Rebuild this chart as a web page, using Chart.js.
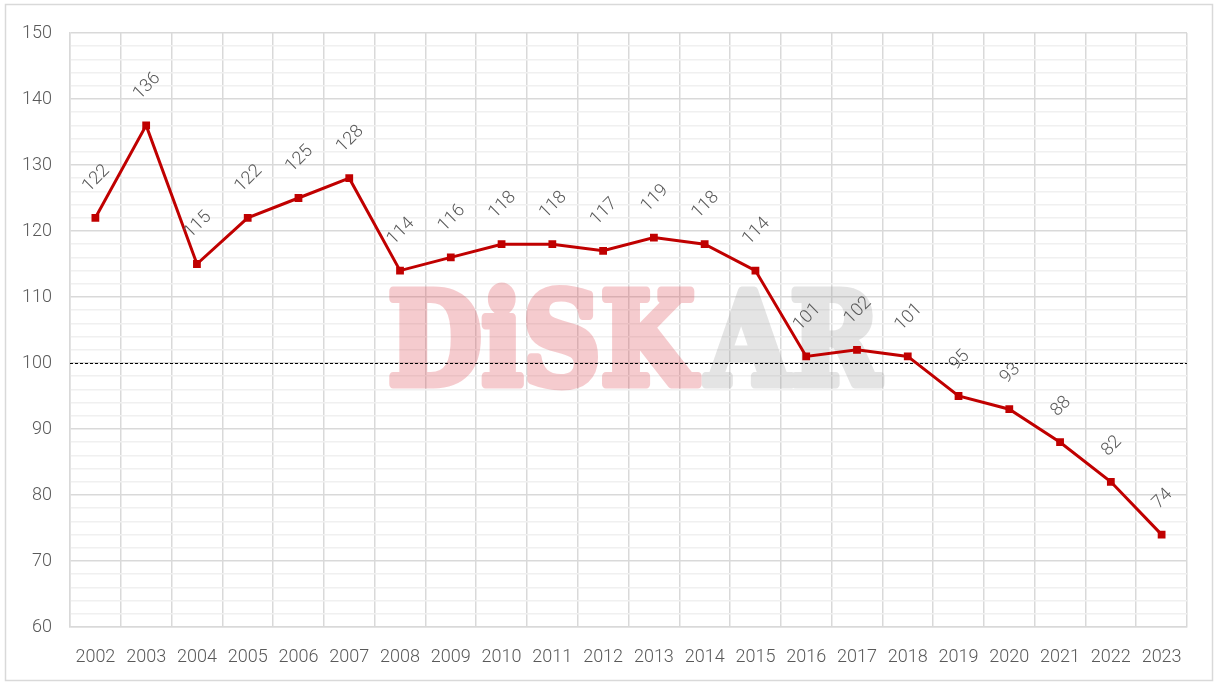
<!DOCTYPE html>
<html>
<head>
<meta charset="utf-8">
<script src="https://cdn.jsdelivr.net/npm/chart.js@4.4.1/dist/chart.umd.min.js"></script>
<style>
  html, body { margin: 0; padding: 0; background: #fff; }
  #wrap { width: 1218px; height: 684px; }
</style>
</head>
<body>
<div id="wrap"><canvas id="chart" width="1218" height="684"></canvas></div>
<script>
var years = ["2002", "2003", "2004", "2005", "2006", "2007", "2008", "2009", "2010", "2011", "2012",
             "2013", "2014", "2015", "2016", "2017", "2018", "2019", "2020", "2021", "2022", "2023"];
var values = [122, 136, 115, 122, 125, 128, 114, 116, 118, 118, 117,
              119, 118, 114, 101, 102, 101, 95, 93, 88, 82, 74];
var yMin = 60, yMax = 150, yMajor = 10, yMinor = 2;
var refLevel = 100;

var textGray = "#595959";
var lineRed = "#c00000";

// frame around the whole chart
var framePlugin = {
    id: "frame",
    beforeDraw: function (chart) {
        var c = chart.ctx;
        c.save();
        c.fillStyle = "#fff";
        c.fillRect(0, 0, chart.width, chart.height);
        c.strokeStyle = "#d9d9d9";
        c.lineWidth = 1.5;
        c.strokeRect(5.5, 4.5, chart.width - 11, chart.height - 8);
        c.restore();
    }
};

// watermark drawn once on an offscreen canvas, then laid on with alpha
function makeMark() {
    var cv = document.createElement("canvas");
    cv.width = 560; cv.height = 150;
    var c = cv.getContext("2d");
    c.font = "bold 128px 'DejaVu Serif'";
    c.textBaseline = "alphabetic";
    c.lineJoin = "round";
    c.lineWidth = 9;
    var w1 = c.measureText("DiSK").width, w2 = c.measureText("AR").width;
    var sx = 492 / (w1 + w2 + 14);
    c.save();
    c.translate(5, 140);
    c.scale(sx, 1);
    c.fillStyle = c.strokeStyle = "#dc3c46";
    c.fillText("DiSK", 0, 0);
    c.strokeText("DiSK", 0, 0);
    c.fillStyle = c.strokeStyle = "#9a9a9a";
    c.fillText("AR", w1 + 14, 0);
    c.strokeText("AR", w1 + 14, 0);
    c.restore();
    return cv;
}
var markCanvas = makeMark();

// watermark + dashed 100 line, under the series
var backPlugin = {
    id: "back",
    beforeDatasetsDraw: function (chart) {
        var c = chart.ctx, a = chart.chartArea;
        c.save();
        c.globalAlpha = 0.26;
        c.drawImage(markCanvas, 388 - 5, 388 - 140 - 4);
        c.restore();

        var y = chart.scales.y.getPixelForValue(refLevel);
        c.save();
        c.strokeStyle = "#000";
        c.lineWidth = 1;
        c.setLineDash([3, 2]);
        c.beginPath();
        c.moveTo(a.left, Math.round(y) + 0.5);
        c.lineTo(a.right, Math.round(y) + 0.5);
        c.stroke();
        c.restore();
    }
};

// rotated value labels above the points
var labelPlugin = {
    id: "rotLabels",
    afterDatasetsDraw: function (chart) {
        var c = chart.ctx;
        var meta = chart.getDatasetMeta(0);
        c.save();
        c.font = "300 18px Roboto";
        c.fillStyle = textGray;
        c.textAlign = "center";
        c.textBaseline = "middle";
        meta.data.forEach(function (pt, i) {
            var txt = String(values[i]);
            var w = c.measureText(txt).width;
            var cy = pt.y - 24 - (w + 13) * 0.3536;
            c.save();
            c.translate(pt.x + 1, cy);
            c.rotate(-Math.PI / 4);
            c.fillText(txt, 0, 0);
            c.restore();
        });
        c.restore();
    }
};

Chart.defaults.font.family = "Roboto";
Chart.defaults.font.weight = "300";
Chart.defaults.color = textGray;

new Chart(document.getElementById("chart").getContext("2d"), {
    type: "line",
    data: {
        labels: years,
        datasets: [{
            data: values,
            borderColor: lineRed,
            backgroundColor: lineRed,
            borderWidth: 3,
            pointStyle: "rect",
            pointRadius: 5.5,
            pointHoverRadius: 5.5,
            pointBackgroundColor: lineRed,
            pointBorderWidth: 0,
            tension: 0
        }]
    },
    options: {
        responsive: false,
        animation: false,
        layout: { padding: { left: 0, right: 31, top: 33, bottom: 0 } },
        plugins: { legend: { display: false }, tooltip: { enabled: false } },
        scales: {
            x: {
                offset: true,
                grid: { offset: true, color: "#d9d9d9", lineWidth: 1.5, drawTicks: false },
                border: { color: "#d9d9d9", width: 1.5 },
                ticks: { padding: 20, font: { size: 18, weight: "300" }, color: textGray, maxRotation: 0 },
                afterFit: function (s) { s.height = 57; }
            },
            y: {
                min: yMin,
                max: yMax,
                grid: {
                    drawTicks: false,
                    lineWidth: 1.5,
                    color: function (ctx) {
                        return ctx.tick && ctx.tick.value % yMajor === 0 ? "#d9d9d9" : "#f0f0f0";
                    }
                },
                border: { color: "#d9d9d9", width: 1.5 },
                ticks: {
                    stepSize: yMinor,
                    autoSkip: false,
                    padding: 18,
                    font: { size: 18, weight: "300" },
                    color: textGray,
                    callback: function (v) { return v % yMajor === 0 ? v : ""; }
                },
                afterFit: function (s) { s.width = 70; }
            }
        }
    },
    plugins: [framePlugin, backPlugin, labelPlugin]
});
</script>
</body>
</html>
